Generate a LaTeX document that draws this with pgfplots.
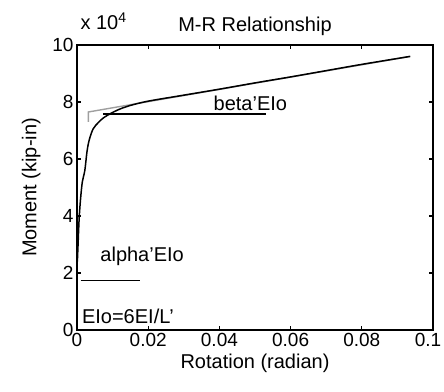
\documentclass[border=0pt]{standalone}
\usepackage{fontspec}
\setmainfont{Liberation Sans}
\usepackage{pgfplots}
\pgfplotsset{compat=1.18}
\begin{document}
\begin{tikzpicture}[x=1pt,y=1pt]
\useasboundingbox (-77,-61) rectangle (367,330);
\begin{axis}[
  at={(0,0)}, anchor=south west,
  scale only axis, width=356pt, height=285pt,
  xmin=0, xmax=0.1, ymin=0, ymax=10,
  xtick={0,0.02,0.04,0.06,0.08},
  xticklabels={0,0.02,0.04,0.06,0.08},
  extra x ticks={0.1},
  extra x tick labels={0.1},
  extra x tick style={tick label style={xshift=-5pt}},
  ytick={0,2,4,6,8,10},
  scaled ticks=false,
  tick align=inside, major tick length=4pt,
  axis line style={line width=1.1pt},
  tick style={line width=1.1pt, black},
  /pgf/number format/assume math mode=true,
  tick label style={font=\fontsize{19}{21}\selectfont},
  label style={font=\fontsize{20}{22}\selectfont},
  ylabel style={yshift=5pt},
  title style={font=\fontsize{20}{22}\selectfont},
  xlabel={Rotation (radian)},
  ylabel={Moment (kip-in)},
  title={M-R Relationship},
  clip=false,
]
\addplot[gray!75, line width=1.4pt] coordinates {(0.0032,7.3) (0.0032,7.65) (0.0936,9.6)};
\addplot[black, line width=1.5pt, smooth] coordinates {
(0.0001,2.4) (0.0003,3.0) (0.0006,3.9) (0.001,4.6) (0.0015,5.2) (0.0022,5.6)
(0.0028,6.25) (0.0034,6.65) (0.0045,7.05) (0.006,7.28) (0.0075,7.45) (0.0095,7.6)
(0.012,7.75) (0.015,7.88) (0.02,8.03) (0.03,8.24) (0.04,8.45) (0.05,8.67)
(0.06,8.88) (0.07,9.1) (0.08,9.32) (0.0936,9.6)};
\addplot[black, line width=1.5pt] coordinates {(0.0073,7.58) (0.053,7.58)};
\addplot[black, line width=1.5pt] coordinates {(0.001,1.74) (0.0178,1.74)};
\node[font=\fontsize{20}{22}\selectfont] at (axis cs:0.0487,7.95) {beta'EIo};
\node[font=\fontsize{20}{22}\selectfont] at (axis cs:0.0183,2.6) {alpha'EIo};
\node[font=\fontsize{20}{22}\selectfont] at (axis cs:0.0143,0.48) {EIo=6EI/L'};
\end{axis}
\node[font=\fontsize{20}{22}\selectfont, anchor=base west] at (0,300) {x 10$^{\mathrm{4}}$};
\end{tikzpicture}
\end{document}
